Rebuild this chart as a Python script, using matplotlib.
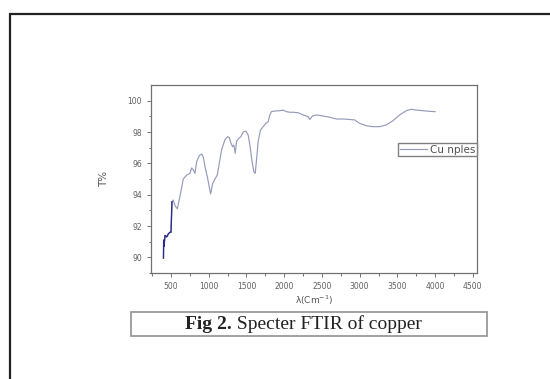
import matplotlib
matplotlib.use("Agg")
import matplotlib.pyplot as plt
from matplotlib.patches import Rectangle
import numpy as np

# FTIR spectrum of copper nanoparticles
wavenumber = [400, 403, 408, 420, 443, 465, 487, 500, 513, 531, 553, 584, 619, 663,
              707, 751, 773, 795, 817, 840, 875, 906, 928, 950, 981, 1007, 1025,
              1051, 1082, 1113, 1140, 1170, 1214, 1250, 1272, 1294, 1316, 1333,
              1351, 1369, 1400, 1426, 1457, 1492, 1523, 1545, 1572, 1598, 1616,
              1633, 1655, 1686, 1721, 1757, 1788, 1810, 1832, 1876, 1942, 1986,
              2030, 2074, 2119, 2185, 2251, 2317, 2339, 2374, 2427, 2515, 2604,
              2692, 2780, 2868, 2934, 3000, 3089, 3177, 3265, 3353, 3441, 3530,
              3618, 3684, 3750, 3838, 3926, 4000]
transmittance = [89.95, 91.1, 90.7, 91.4, 91.3, 91.5, 91.6, 91.6, 93.55, 93.66, 93.3,
                 93.1, 93.9, 95.0, 95.25, 95.36, 95.7, 95.6, 95.36, 96.1, 96.5, 96.6,
                 96.4, 95.8, 95.15, 94.5, 94.04, 94.7, 95.0, 95.25, 96.0, 96.85, 97.5,
                 97.7, 97.65, 97.3, 97.06, 97.17, 96.64, 97.4, 97.6, 97.7, 98.0, 98.06,
                 97.8, 97.17, 96.2, 95.47, 95.36, 96.2, 97.4, 98.13, 98.34, 98.55,
                 98.66, 99.09, 99.3, 99.34, 99.36, 99.4, 99.3, 99.26, 99.26, 99.23,
                 99.09, 98.98, 98.8, 99.02, 99.09, 99.02, 98.94, 98.83, 98.83, 98.8,
                 98.77, 98.55, 98.4, 98.34, 98.34, 98.45, 98.72, 99.09, 99.36, 99.45,
                 99.4, 99.36, 99.32, 99.3]
series_label = "Cu nples"
caption_bold = "Fig 2."
caption_rest = " Specter FTIR of copper"

x = np.array(wavenumber)
y = np.array(transmittance)

fig = plt.figure(figsize=(5.5, 3.79), dpi=100)

# outer page frame (runs off right and bottom edges)
fig.add_artist(Rectangle((10 / 550, -0.1), 1.2, 1 - 14 / 379 + 0.1,
                         transform=fig.transFigure, fill=False,
                         edgecolor="#222222", linewidth=1.6))

ax = fig.add_axes([151 / 550, 1 - 273 / 379, 326 / 550, 188 / 379])
line_color = "#959bbb"
ax.plot(x, y, color=line_color, linewidth=0.85, label=series_label)
# darker, noisy start of the trace
low = x <= 513
ax.plot(x[low], y[low], color="#2c2c86", linewidth=1.0)

ax.set_xlim(235, 4555)
ax.set_ylim(89, 101)
ax.set_xticks(np.arange(500, 4501, 500))
ax.set_xticks(np.arange(250, 4501, 250), minor=True)
ax.set_yticks(np.arange(90, 101, 2))
ax.set_yticks(np.arange(89, 101, 1), minor=True)

for s in ax.spines.values():
    s.set_color("#707070")
    s.set_linewidth(0.9)
ax.tick_params(which="both", direction="out", colors="#707070", labelcolor="#606060",
               labelsize=5.5, width=0.7)
ax.tick_params(which="major", length=3)
ax.tick_params(which="minor", length=1.8)

ax.set_xlabel("\u03bb(Cm$^{-1}$)", fontsize=6.5, color="#555555", labelpad=2)
ax.set_ylabel("T%", fontsize=7.5, color="#555555", labelpad=13)

leg = ax.legend(loc="upper right", bbox_to_anchor=(1.0, 0.691), borderaxespad=0,
                fancybox=False, edgecolor="#808080", fontsize=7.5, handlelength=2.6,
                borderpad=0.15, handletextpad=0.3, framealpha=1)
for t in leg.get_texts():
    t.set_color("#505050")

# caption box
fig.add_artist(Rectangle((131 / 550, 1 - 336 / 379), 356 / 550, 24 / 379,
                         transform=fig.transFigure, fill=False,
                         edgecolor="#9a9a9a", linewidth=1.3))
cap_y = 1 - 324.5 / 379
t1 = fig.text(185 / 550, cap_y, caption_bold, fontsize=14, fontweight="bold",
              family="Liberation Serif", color="#222222", va="center", ha="left")
fig.canvas.draw()
bb = t1.get_window_extent()
fig.text(bb.x1 / fig.bbox.width, cap_y, caption_rest, fontsize=14,
         family="Liberation Serif", color="#222222", va="center", ha="left")

fig.savefig("out.png", dpi=100)
